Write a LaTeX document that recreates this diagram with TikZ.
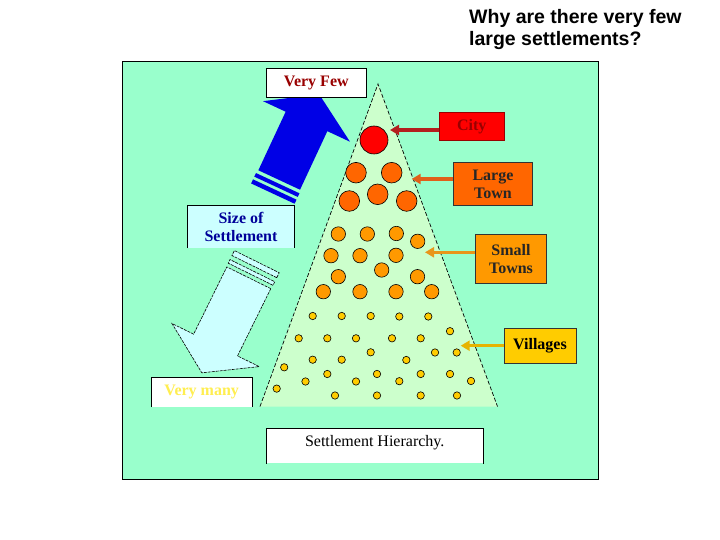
\documentclass[tikz,border=0pt]{standalone}
\usepackage{fontspec}
\setmainfont{Liberation Serif}
\newfontfamily\titlefont{Liberation Sans}
\definecolor{bggreen}{RGB}{153,255,204}
\definecolor{palegreen}{RGB}{204,255,204}
\definecolor{paleblue}{RGB}{204,255,255}
\definecolor{cityred}{RGB}{255,0,0}
\definecolor{darkred}{RGB}{153,0,0}
\definecolor{townorange}{RGB}{255,102,0}
\definecolor{smallorange}{RGB}{255,153,0}
\definecolor{villgold}{RGB}{255,204,0}
\definecolor{bigblue}{RGB}{0,0,230}
\definecolor{sizeblue}{RGB}{0,0,153}
\definecolor{manyyellow}{RGB}{255,238,80}
\definecolor{cityarrow}{RGB}{180,30,30}
\definecolor{largearrow}{RGB}{224,96,26}
\definecolor{smallarrow}{RGB}{232,150,26}
\definecolor{villarrow}{RGB}{230,180,0}
\usetikzlibrary{arrows.meta}

\begin{document}
\begin{tikzpicture}[x=1pt, y=-1pt,
  tagbox/.style={rectangle, inner sep=0pt, align=center, line width=0.8pt, font=\fontsize{16}{18}\selectfont\bfseries},
  pointer/.style={line width=3.5pt, -{Triangle[length=9pt,width=10pt]}},
  ring/.style={draw=black, line width=0.6pt}
]
  \useasboundingbox (0,0) rectangle (720,540);
  \node[anchor=north west, inner sep=0pt, align=left, font=\titlefont\bfseries\fontsize{19.5}{22}\selectfont] (title) at (469,9) {Why are there very few\\large settlements?};

  \draw[fill=bggreen, line width=0.8pt] (122,61) rectangle (598,479);

  % pyramid
  \fill[palegreen] (378,84) -- (497.5,406.5) -- (260,406.5) -- cycle;
  \draw[dash pattern=on 4pt off 2pt, line width=0.7pt] (260,406.5) -- (378,84) -- (497.5,406.5);

  \filldraw[ring, fill=cityred] (374,140) circle (14);
  \foreach \x/\y in {356/172.7, 391.7/172.7, 349.3/201, 377.7/194.3, 406.7/201}
    \filldraw[ring, fill=townorange] (\x,\y) circle (10.3);
  \foreach \x/\y in {338.3/234, 367.3/234, 396.3/233.5, 417.7/241.3, 331/255.7, 360/255.7, 396/255.3,
      381.7/270, 338.3/276.7, 417.5/276.7, 323.3/291.7, 360/291.7, 396/291.7, 431.7/291.7}
    \filldraw[ring, fill=smallorange] (\x,\y) circle (7.2);
  \foreach \x/\y in {312.7/316, 341.7/316, 370.7/316, 399.3/316.5, 428.3/316.5, 450/331.2,
      298.7/338.3, 327.3/338.3, 356/338.3, 392/338.3, 420.7/338.3,
      370.7/352.3, 435/352.5, 456.7/352.5, 312.7/359.7, 341.7/359.7, 406.3/360, 284.2/367.3,
      327.3/374, 377/374, 420.7/374, 450/374, 305.5/381.5, 356/381.5, 399.3/381.2, 471/381,
      276.7/388.6, 335/395.5, 377/395.5, 420.7/395.5, 457/395.5}
    \filldraw[ring, fill=villgold] (\x,\y) circle (3.7);

  % big arrows
  \begin{scope}[shift={(279.2,180)}, rotate=65]
    \fill[bigblue] (0,-23) -- (64.6,-23) -- (64.6,-48) -- (94.6,0) -- (64.6,48) -- (64.6,23) -- (0,23) -- cycle;
    \fill[bigblue] (-3.5,-24) rectangle (-7.5,24);
    \fill[bigblue] (-10.5,-24) rectangle (-15,24);
  \end{scope}
  \begin{scope}[shift={(248.8,277.8)}, rotate=243.7, dash pattern=on 3pt off 1pt, line width=0.6pt]
    \filldraw[fill=paleblue] (0,-24.5) -- (75,-24.5) -- (75,-48.7) -- (106,0) -- (75,48.7) -- (75,24.5) -- (0,24.5) -- cycle;
    \filldraw[fill=paleblue] (-4,-25) rectangle (-8,25);
    \filldraw[fill=paleblue] (-12.5,-25) rectangle (-18,25);
  \end{scope}

  \node[tagbox, fill=white, draw=black, minimum width=100.7pt, minimum height=29.4pt, text=darkred] (veryfew) at (316.3,83) {Very Few};

  \node[tagbox, fill=paleblue, minimum width=106.6pt, minimum height=42pt, text=sizeblue] (size) at (241,226.7) {Size of\\Settlement};
  \draw[line width=0.8pt] (size.south west) -- (size.north west) -- (size.north east) -- (size.south east);

  \node[tagbox, fill=white, minimum width=100pt, minimum height=28.7pt, text=manyyellow] (verymany) at (201.7,392.3) {Very many};
  \draw[line width=0.8pt] (verymany.south west) -- (verymany.north west) -- (verymany.north east) -- (verymany.south east);

  \node[tagbox, font=\fontsize{16}{18}\selectfont, text depth=9.5pt, fill=white, minimum width=216pt, minimum height=34.6pt] (hierarchy) at (374.7,446) {Settlement Hierarchy.};
  \draw[line width=0.8pt] (hierarchy.south west) -- (hierarchy.north west) -- (hierarchy.north east) -- (hierarchy.south east);

  % labels on the right
  \node[tagbox, fill=cityred, draw=darkred, minimum width=64.7pt, minimum height=27.7pt, text=darkred] (city) at (471.7,126.2) {City};
  \node[tagbox, fill=townorange, draw=black!80, minimum width=79.4pt, minimum height=43.4pt, text=black!85] (largetown) at (493,184) {Large\\Town};
  \node[tagbox, fill=smallorange, draw=black!80, minimum width=71.4pt, minimum height=49.3pt, text=black!85] (smalltowns) at (511,258.7) {Small\\Towns};
  \node[tagbox, fill=villgold, draw=black!80, minimum width=72pt, minimum height=35pt] (villages) at (540,345.8) {Villages};

  \coordinate (cityend) at (390,130);
  \coordinate (largeend) at (411.7,179);
  \coordinate (smallend) at (425,252.3);
  \coordinate (villend) at (460.7,345.7);

  \draw[pointer, cityarrow] (city.west |- cityend) -- (cityend);
  \draw[pointer, largearrow] (largetown.west |- largeend) -- (largeend);
  \draw[pointer, smallarrow] (smalltowns.west |- smallend) -- (smallend);
  \draw[pointer, villarrow] (villages.west |- villend) -- (villend);
\end{tikzpicture}
\end{document}
